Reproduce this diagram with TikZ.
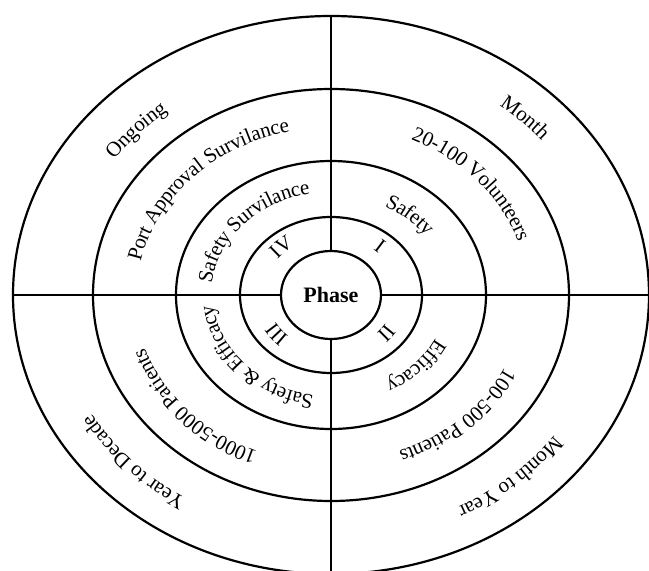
\documentclass[tikz,border=0pt]{standalone}
\usepackage{fontspec}
\setmainfont{Liberation Serif}
\usetikzlibrary{shapes.geometric,decorations.text}
\begin{document}
\begin{tikzpicture}[x=1pt,y=1pt,
  ring/.style={draw, ellipse, line width=2.2pt, inner sep=0pt},
  spoke/.style={line width=2.2pt},
  curved/.style={decorate, decoration={text along path, text={#1}, text align=center, raise=-5pt}},
]
\fontsize{21}{25}\selectfont
\useasboundingbox (-331,-276) rectangle (318,295);
\begin{scope}
\clip (-331,-276) rectangle (318,295);
% rings
\node[ring, minimum width=636pt, minimum height=558pt] (e1) at (0,0) {};
\node[ring, minimum width=476pt, minimum height=412pt] (e2) at (0,0) {};
\node[ring, minimum width=310pt, minimum height=268pt] (e3) at (0,0) {};
\node[ring, minimum width=182pt, minimum height=156pt] (e4) at (0,0) {};
\node[ring, minimum width=100pt, minimum height=88pt, font=\fontsize{22}{26}\selectfont\bfseries] (phase) at (0,0) {Phase};
% spokes
\draw[spoke] (phase.west) -- (e1.west);
\draw[spoke] (phase.east) -- (e1.east);
\draw[spoke] (phase.north) -- (e1.north);
\draw[spoke] (phase.south) -- (e1.south);
\end{scope}
% ring A
\path[curved={Ongoing}] (166.8:272pt and 237pt) arc[start angle=166.8, end angle=106.8, x radius=272pt, y radius=237pt];
\path[curved={Month}] (75.4:281pt and 244pt) arc[start angle=75.4, end angle=15.4, x radius=281pt, y radius=244pt];
\path[curved={Year to Decade}] (253.4:281pt and 244pt) arc[start angle=253.4, end angle=193.4, x radius=281pt, y radius=244pt];
\path[curved={Month to Year}] (341.3:281pt and 244pt) arc[start angle=341.3, end angle=281.3, x radius=281pt, y radius=244pt];
% ring B
\path[curved={Port Approval Survilance}] (181.2:199pt and 172pt) arc[start angle=181.2, end angle=91.2, x radius=199pt, y radius=172pt];
\path[curved={20-100 Volunteers}] (85.8:202pt and 175pt) arc[start angle=85.8, end angle=-4.2, x radius=202pt, y radius=175pt];
\path[curved={1000-5000 Patients}] (266.8:201pt and 174pt) arc[start angle=266.8, end angle=176.8, x radius=201pt, y radius=174pt];
\path[curved={100-500 Patients}] (358.7:198pt and 172pt) arc[start angle=358.7, end angle=268.7, x radius=198pt, y radius=172pt];
% ring C
\path[curved={Safety Survilance}] (182.2:125pt and 108pt) arc[start angle=182.2, end angle=92.2, x radius=125pt, y radius=108pt];
\path[curved={Safety}] (92.5:122pt and 105pt) arc[start angle=92.5, end angle=2.5, x radius=122pt, y radius=105pt];
\path[curved={Safety {\&} Efficacy}] (268.2:123pt and 106pt) arc[start angle=268.2, end angle=178.2, x radius=123pt, y radius=106pt];
\path[curved={Efficacy}] (362.6:121pt and 104pt) arc[start angle=362.6, end angle=272.6, x radius=121pt, y radius=104pt];
% ring D
\path[curved={IV}] (163.1:73pt and 63pt) arc[start angle=163.1, end angle=103.1, x radius=73pt, y radius=63pt];
\path[curved={I}] (77.9:73pt and 63pt) arc[start angle=77.9, end angle=17.9, x radius=73pt, y radius=63pt];
\path[curved={III}] (248.5:69pt and 60pt) arc[start angle=248.5, end angle=188.5, x radius=69pt, y radius=60pt];
\path[curved={II}] (352.7:69pt and 60pt) arc[start angle=352.7, end angle=292.7, x radius=69pt, y radius=60pt];
\end{tikzpicture}
\end{document}
